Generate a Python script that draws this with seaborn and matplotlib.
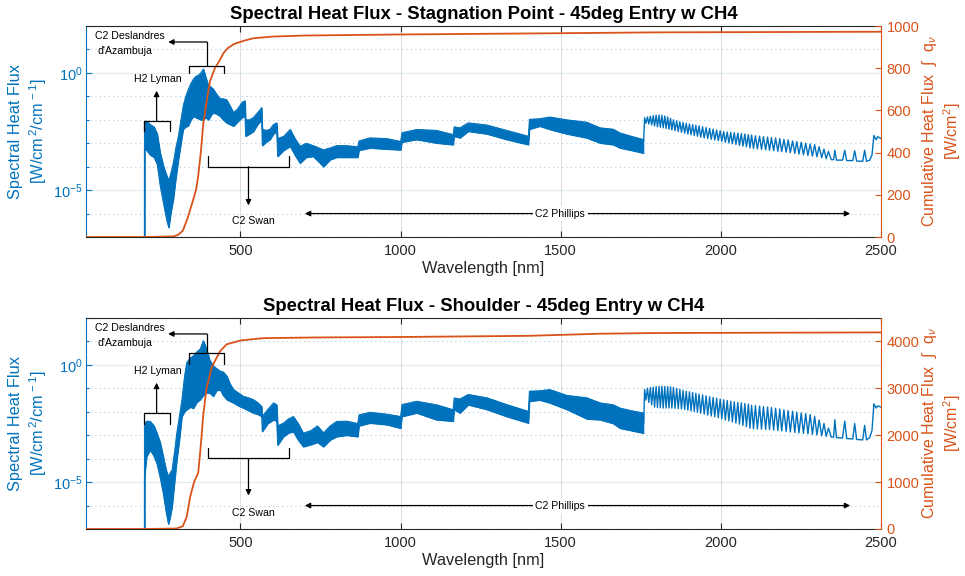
import numpy as np
import matplotlib
matplotlib.use("Agg")
import matplotlib.pyplot as plt
import seaborn as sns
from matplotlib.ticker import FixedLocator, NullFormatter, FixedFormatter

# ---------------- data ----------------
# Spectral heat flux envelope (log10 W/cm2/cm-1) of the dense/noisy part of the spectrum
top_band_wl = [17.5, 199.9, 200, 207, 218, 230, 240, 249, 260, 270, 276, 282, 290, 298, 306, 314, 321, 329, 337, 345,
               353, 360, 368, 376, 384, 392, 400, 408, 415, 425, 436, 446, 457, 467, 478, 490, 505, 514, 516, 528,
               540, 553, 566, 568, 580, 592, 603, 613, 616, 635, 655, 670, 686, 705, 727, 745, 759, 780, 800, 832,
               866, 870, 904, 957, 1000, 1004, 1050, 1112, 1164, 1167, 1185, 1211, 1269, 1331, 1399, 1402, 1435,
               1466, 1519, 1581, 1623, 1664, 1685, 1720, 1758]
top_band_hi = [-12, -12, -2.1, -2.05, -2.2, -2.3, -2.6, -3.4, -4.0, -4.4, -4.6, -4.3, -3.85, -3.2, -2.7, -2.0, -1.4, -1.0,
               -0.7, -0.45, -0.26, -0.15, -0.1, 0.0, 0.17, -0.2, -0.55, -0.6, -0.69, -0.9, -1.1, -1.1, -1.15, -1.4,
               -1.69, -1.55, -1.25, -1.19, -2.0, -2.0, -1.9, -1.7, -1.48, -2.4, -2.45, -2.4, -2.2, -2.13, -2.8, -2.7,
               -2.41, -2.8, -3.13, -3.0, -3.1, -3.2, -3.28, -3.2, -3.1, -3.1, -3.15, -2.9, -2.77, -2.8, -2.92, -2.55,
               -2.41, -2.45, -2.63, -2.3, -2.34, -2.13, -2.22, -2.45, -2.70, -1.98, -1.95, -1.88, -2.0, -2.1, -2.34,
               -2.4, -2.56, -2.7, -2.84]
top_band_lo = [-12, -12, -3.2, -3.3, -3.5, -3.6, -3.9, -4.8, -5.6, -6.3, -6.6, -6.0, -5.4, -4.5, -3.7, -3.0, -2.4, -2.3,
               -2.25, -2.0, -1.85, -1.9, -1.95, -2.0, -2.0, -1.9, -2.0, -1.8, -1.7, -1.75, -1.84, -2.0, -2.13, -2.2,
               -2.27, -2.1, -1.9, -1.84, -2.7, -2.6, -2.5, -2.2, -2.0, -3.1, -2.95, -2.84, -2.6, -2.5, -3.56, -3.3,
               -3.13, -3.5, -3.85, -3.6, -3.56, -3.8, -4.0, -3.7, -3.6, -3.6, -3.6, -3.3, -3.2, -3.25, -3.28, -2.95,
               -2.84, -2.99, -3.06, -2.7, -2.77, -2.49, -2.6, -2.84, -3.06, -2.4, -2.27, -2.41, -2.6, -2.77, -2.99,
               -3.06, -3.2, -3.3, -3.42]

# C2 Phillips band teeth (long-wavelength part): (wavelength nm, log10 flux)
top_phillips = [
    (1759, -2.90), (1762, -1.91), (1766, -2.15), (1771, -1.88), (1775, -2.18), (1780, -1.85), (1784, -2.22),
    (1789, -1.82), (1793, -2.26), (1798, -1.80), (1802, -2.30), (1807, -1.80), (1811, -2.32), (1816, -1.81),
    (1820, -2.34), (1825, -1.84), (1829, -2.37), (1834, -1.88), (1838, -2.40), (1843, -1.94), (1847, -2.43),
    (1852, -2.00), (1857, -2.46), (1862, -2.04), (1867, -2.50), (1872, -2.08), (1877, -2.53), (1882, -2.12),
    (1887, -2.57), (1892, -2.15), (1897, -2.61), (1902, -2.18), (1907, -2.64), (1912, -2.21), (1917, -2.67),
    (1922, -2.24), (1927, -2.70), (1932, -2.26), (1937, -2.74), (1943, -2.30), (1948, -2.77), (1954, -2.33),
    (1959, -2.80), (1965, -2.37), (1970, -2.83), (1976, -2.40), (1981, -2.86), (1987, -2.44), (1992, -2.89),
    (1998, -2.47), (2003, -2.92), (2009, -2.50), (2014, -2.96), (2020, -2.52), (2025, -2.99), (2031, -2.54),
    (2036, -3.02), (2042, -2.55), (2047, -3.05), (2053, -2.57), (2058, -3.09), (2064, -2.59), (2069, -3.12),
    (2075, -2.61), (2080, -3.15), (2086, -2.63), (2091, -3.20), (2096, -2.65), (2102, -3.22), (2108, -2.68),
    (2114, -3.24), (2121, -2.70), (2127, -3.26), (2133, -2.72), (2140, -3.28), (2146, -2.74), (2152, -3.30),
    (2158, -2.76), (2165, -3.32), (2171, -2.78), (2178, -3.34), (2184, -2.80), (2190, -3.36), (2197, -2.84),
    (2204, -3.38), (2210, -2.86), (2217, -3.40), (2224, -2.90), (2231, -3.43), (2237, -2.93), (2244, -3.46),
    (2251, -2.96), (2258, -3.49), (2265, -3.00), (2272, -3.52), (2279, -3.03), (2286, -3.55), (2293, -3.06),
    (2300, -3.58), (2307, -3.15), (2315, -3.62), (2322, -3.25), (2329, -3.66), (2336, -3.35), (2345, -3.70),
    (2352, -3.70), (2356, -3.30), (2361, -3.72), (2380, -3.72), (2387, -3.30), (2393, -3.74), (2412, -3.74),
    (2418, -3.32), (2424, -3.76), (2443, -3.77), (2449, -3.30), (2455, -3.77), (2465, -3.72), (2472, -3.50),
    (2478, -2.67), (2485, -2.85), (2490, -2.72), (2500, -2.80)]

bot_band_wl = [17.5, 199.9, 200, 207, 218, 230, 239, 249, 259, 268, 275, 280, 286, 294, 301, 309, 317, 325, 332, 343,
               353, 363, 374, 384, 394, 404, 415, 425, 436, 446, 457, 467, 478, 494, 509, 525, 540, 553, 566, 568,
               585, 603, 613, 616, 634, 650, 665, 680, 696, 720, 740, 759, 780, 800, 832, 866, 870, 904, 957, 1000,
               1004, 1050, 1112, 1164, 1167, 1185, 1211, 1269, 1331, 1399, 1402, 1435, 1466, 1519, 1581, 1623, 1664,
               1685, 1720, 1758]
bot_band_hi = [-12, -12, -2.48, -2.4, -2.41, -2.6, -2.91, -3.3, -3.92, -4.5, -4.78, -4.6, -4.5, -3.7, -2.91, -2.2, -1.48,
               -0.5, 0.10, 0.3, 0.39, 0.55, 0.68, 1.03, 0.68, 0.2, -0.04, -0.15, -0.26, -0.3, -0.47, -0.8, -1.05, -1.2,
               -1.34, -1.4, -1.48, -1.6, -1.77, -2.2, -1.9, -1.62, -1.7, -2.6, -2.48, -2.3, -2.2, -2.5, -2.91, -2.8,
               -2.6, -2.9, -2.6, -2.41, -2.4, -2.5, -2.13, -2.02, -2.1, -2.2, -1.69, -1.55, -1.7, -1.91, -1.41, -1.45,
               -1.26, -1.4, -1.69, -1.98, -1.12, -1.1, -1.05, -1.3, -1.4, -1.62, -1.7, -1.84, -1.95, -2.05]
bot_band_lo = [-12, -12, -4.78, -3.9, -3.63, -3.9, -4.21, -4.8, -5.5, -6.3, -6.79, -6.5, -6.08, -5.0, -4.06, -3.2, -2.2,
               -2.0, -1.91, -1.8, -1.85, -1.6, -1.48, -1.3, -1.19, -1.2, -1.34, -1.1, -1.05, -1.3, -1.48, -1.55, -1.62,
               -1.75, -1.84, -1.95, -2.05, -2.1, -2.2, -2.84, -2.5, -2.34, -2.4, -3.42, -3.06, -2.9, -2.85, -3.2,
               -3.49, -3.4, -3.3, -3.49, -3.2, -3.06, -3.0, -3.06, -2.6, -2.48, -2.55, -2.70, -2.2, -2.05, -2.34, -2.4,
               -1.9, -2.05, -1.7, -1.9, -2.2, -2.48, -1.55, -1.5, -1.62, -1.9, -2.3, -2.34, -2.5, -2.70, -2.8, -2.91]

bot_phillips = [
    (1759, -2.50), (1762, -1.05), (1766, -1.50), (1771, -1.00), (1775, -1.60), (1780, -0.97), (1784, -1.70),
    (1789, -0.95), (1793, -1.80), (1798, -0.93), (1802, -1.82), (1807, -0.92), (1811, -1.83), (1816, -0.91),
    (1820, -1.84), (1825, -0.92), (1829, -1.84), (1834, -0.93), (1838, -1.84), (1843, -0.94), (1847, -1.84),
    (1852, -0.96), (1857, -1.85), (1862, -1.00), (1867, -1.87), (1872, -1.04), (1877, -1.88), (1882, -1.09),
    (1887, -1.90), (1892, -1.12), (1897, -1.93), (1902, -1.15), (1907, -1.96), (1912, -1.18), (1917, -1.99),
    (1922, -1.21), (1927, -2.02), (1932, -1.25), (1937, -2.06), (1943, -1.28), (1948, -2.10), (1954, -1.32),
    (1959, -2.14), (1965, -1.36), (1970, -2.18), (1976, -1.39), (1981, -2.21), (1987, -1.42), (1992, -2.25),
    (1998, -1.46), (2003, -2.30), (2009, -1.49), (2014, -2.35), (2020, -1.52), (2025, -2.39), (2031, -1.55),
    (2036, -2.43), (2042, -1.58), (2047, -2.48), (2053, -1.60), (2058, -2.53), (2064, -1.62), (2069, -2.58),
    (2075, -1.65), (2080, -2.63), (2086, -1.67), (2091, -2.70), (2096, -1.72), (2102, -2.72), (2108, -1.74),
    (2114, -2.73), (2121, -1.76), (2127, -2.74), (2133, -1.78), (2140, -2.75), (2146, -1.80), (2152, -2.76),
    (2158, -1.82), (2165, -2.78), (2171, -1.85), (2178, -2.80), (2184, -1.88), (2190, -2.82), (2197, -1.92),
    (2204, -2.84), (2210, -1.95), (2217, -2.86), (2224, -1.98), (2231, -2.88), (2237, -2.02), (2244, -2.90),
    (2251, -2.05), (2258, -2.92), (2265, -2.08), (2272, -2.94), (2279, -2.12), (2286, -2.96), (2293, -2.20),
    (2300, -2.99), (2307, -2.35), (2315, -3.02), (2322, -2.50), (2329, -3.05), (2336, -2.70), (2345, -3.08),
    (2352, -3.08), (2356, -2.34), (2361, -3.10), (2380, -3.12), (2387, -2.40), (2393, -3.14), (2412, -3.16),
    (2418, -2.50), (2424, -3.18), (2443, -3.20), (2449, -2.58), (2455, -3.20), (2465, -3.10), (2472, -2.80),
    (2478, -1.66), (2485, -1.84), (2490, -1.75), (2500, -1.80)]

# Cumulative heat flux (W/cm2)
top_cum_wl = [17.5, 200, 290, 305, 320, 335, 345, 355, 362, 368, 376, 384, 395, 405, 420, 436, 446, 460, 480, 510, 540,
              600, 700, 1000, 1500, 1800, 2500]
top_cum = [0, 0, 3, 10, 30, 90, 140, 190, 230, 290, 400, 540, 650, 740, 800, 840, 870, 895, 915, 930, 942, 950, 955,
           960, 966, 970, 973]
bot_cum_wl = [17.5, 200, 300, 320, 332, 343, 355, 368, 375, 384, 394, 410, 436, 457, 500, 570, 730, 1000, 1400, 1623,
              1800, 2500]
bot_cum = [0, 0, 10, 60, 260, 690, 1000, 1200, 1700, 2450, 3000, 3450, 3790, 3940, 4020, 4070, 4085, 4095, 4120, 4165,
           4180, 4193]

titles = ["Spectral Heat Flux - Stagnation Point - 45deg Entry w CH4",
          "Spectral Heat Flux - Shoulder - 45deg Entry w CH4"]
x_ticks = [500, 1000, 1500, 2000, 2500]
right_ticks = [[0, 200, 400, 600, 800, 1000], [0, 1000, 2000, 3000, 4000]]
right_lims = [1000, 4500]

# ---------------- style ----------------
sns.set_theme(style="white")
plt.rcParams["font.family"] = ["Liberation Sans", "DejaVu Sans"]
plt.rcParams["mathtext.fontset"] = "custom"
plt.rcParams["mathtext.rm"] = "Liberation Sans"
plt.rcParams["mathtext.it"] = "Liberation Sans:italic"
plt.rcParams["mathtext.sf"] = "Liberation Sans"

BLUE = "#0072BD"
ORANGE = "#D95319"
DARK = "#262626"
LBL = 11.8

fig = plt.figure(figsize=(9.65, 5.76), dpi=100)
ax_pos = [[0.0891, 0.5885, 0.8238, 0.3663], [0.0891, 0.0816, 0.8238, 0.3663]]

# annotation layout (nm, log10 flux)
ann = [
    dict(desl_bracket=0.31, desl_tick=0.0, lym_br=-2.06, lym_tick=-2.49, lym_head=-0.76, swan_br=-4.0,
         swan_tick=-3.56, swan_head=-5.65, swan_txt=-6.32, phil=-6.0),
    dict(desl_bracket=0.49, desl_tick=0.03, lym_br=-2.05, lym_tick=-2.53, lym_head=-0.76, swan_br=-3.99,
         swan_tick=-3.56, swan_head=-5.57, swan_txt=-6.32, phil=-6.0),
]

panels = [
    (top_band_wl, top_band_hi, top_band_lo, top_phillips, top_cum_wl, top_cum),
    (bot_band_wl, bot_band_hi, bot_band_lo, bot_phillips, bot_cum_wl, bot_cum),
]

for i, (bwl, bhi, blo, phil, cwl, cv) in enumerate(panels):
    ax = fig.add_axes(ax_pos[i])
    ax.set_yscale("log")
    hi = 10.0 ** np.array(bhi)
    lo = 10.0 ** np.array(blo)
    ax.fill_between(bwl, lo, hi, color=BLUE, lw=0.7, edgecolor=BLUE, zorder=2)
    sns.lineplot(x=bwl, y=hi, ax=ax, color=BLUE, lw=0.7, sort=False, estimator=None, zorder=2)
    sns.lineplot(x=bwl, y=lo, ax=ax, color=BLUE, lw=0.7, sort=False, estimator=None, zorder=2)
    pwl = [p[0] for p in phil]
    pv = 10.0 ** np.array([p[1] for p in phil])
    sns.lineplot(x=pwl, y=pv, ax=ax, color=BLUE, lw=1.0, sort=False, estimator=None, zorder=2)
    ax.set_xlim(17.5, 2500)
    ax.set_ylim(1e-7, 1e2)

    ax.xaxis.set_major_locator(FixedLocator(x_ticks))
    ax.set_xticklabels([str(t) for t in x_ticks])
    ax.yaxis.set_major_locator(FixedLocator([1e-5, 1e0]))
    ax.yaxis.set_major_formatter(FixedFormatter([r"$10^{-5}$", r"$10^{0}$"]))
    ax.yaxis.set_minor_locator(FixedLocator([10.0 ** k for k in range(-7, 3)]))
    ax.yaxis.set_minor_formatter(NullFormatter())

    ax.tick_params(axis="x", which="both", direction="in", top=True, bottom=True, length=4, width=0.8,
                   labelsize=10.5, colors=DARK, pad=5)
    ax.tick_params(axis="y", which="major", direction="in", left=True, right=False, length=4, width=0.8,
                   labelsize=10.5, colors=BLUE, pad=2)
    ax.tick_params(axis="y", which="minor", direction="in", left=True, right=False, length=2.5, width=0.8,
                   colors=BLUE)

    ax.grid(which="major", axis="x", color="#000000", alpha=0.13, lw=0.8, ls="-")
    ax.grid(which="major", axis="y", color=BLUE, alpha=0.13, lw=0.8, ls="-")
    ax.grid(which="minor", axis="y", color=BLUE, alpha=0.35, lw=0.8, ls=(0, (1, 3)))
    ax.set_axisbelow(True)

    for s in ["top", "bottom"]:
        ax.spines[s].set_color(DARK)
        ax.spines[s].set_linewidth(0.8)
    ax.spines["left"].set_color(BLUE)
    ax.spines["left"].set_linewidth(0.8)
    ax.spines["right"].set_visible(False)

    ax.set_xlabel("Wavelength [nm]", fontsize=LBL, color=DARK, labelpad=2)
    ax.set_ylabel("Spectral Heat Flux\n[W/cm$^{\\,2}$/cm$^{\\,-1}$]", fontsize=LBL, color=BLUE,
                  linespacing=1.3)
    ax.yaxis.set_label_coords(-0.046, 0.5)
    ax.set_title(titles[i], fontsize=13.3, fontweight="bold", color="black", pad=5)

    # cumulative on right axis
    ax2 = ax.twinx()
    sns.lineplot(x=cwl, y=cv, ax=ax2, color=ORANGE, lw=1.3, sort=False, estimator=None)
    ax2.set_ylim(0, right_lims[i])
    ax2.set_xlim(17.5, 2500)
    ax2.yaxis.set_major_locator(FixedLocator(right_ticks[i]))
    ax2.set_yticklabels([str(t) for t in right_ticks[i]])
    ax2.tick_params(axis="y", direction="in", length=4, width=0.8, labelsize=10.5, colors=ORANGE, pad=4)
    ax2.spines["right"].set_color(ORANGE)
    ax2.spines["right"].set_linewidth(0.8)
    for s in ["left", "top", "bottom"]:
        ax2.spines[s].set_visible(False)
    ax2.grid(False)
    ax2.set_ylabel("Cumulative Heat Flux  \u222b  q$_{\\nu}$\n[W/cm$^{2}$]", fontsize=11.5, color=ORANGE,
                   linespacing=1.15)
    ax2.yaxis.set_label_coords(1.0495, 0.5)

    # ---- annotations (drawn on top, in left-axis data coords) ----
    a = ann[i]
    T = ax.transData
    kw = dict(color="black", lw=0.9, transform=T, zorder=5, clip_on=False)
    akw = dict(arrowstyle="-|>", mutation_scale=8, lw=0.9, color="black", shrinkA=0, shrinkB=0)
    P = lambda v: 10.0 ** v
    fs = 7.6

    # C2 Deslandres d'Azambuja
    ax2.plot([340, 340, 449, 449], [P(a["desl_tick"]), P(a["desl_bracket"]), P(a["desl_bracket"]), P(a["desl_tick"])], **kw)
    ax2.plot([395, 395], [P(a["desl_bracket"]), P(1.32)], **kw)
    ax2.annotate("", xy=(274, P(1.32)), xytext=(395, P(1.32)), xycoords=T, textcoords=T, arrowprops=akw)
    ax2.text(46, P(1.59), "C2 Deslandres", transform=T, fontsize=fs, ha="left", va="center", color="black")
    ax2.text(52, P(0.95), "d'Azambuja", transform=T, fontsize=fs, ha="left", va="center", color="black")

    # H2 Lyman
    ax2.plot([200, 200, 280, 280], [P(a["lym_tick"]), P(a["lym_br"]), P(a["lym_br"]), P(a["lym_tick"])], **kw)
    ax2.annotate("", xy=(238, P(a["lym_head"])), xytext=(238, P(a["lym_br"])), xycoords=T, textcoords=T,
                 arrowprops=akw)
    ax2.text(243, P(-0.26), "H2 Lyman", transform=T, fontsize=fs, ha="center", va="center", color="black")

    # C2 Swan
    ax2.plot([400, 400, 651, 651], [P(a["swan_tick"]), P(a["swan_br"]), P(a["swan_br"]), P(a["swan_tick"])], **kw)
    ax2.annotate("", xy=(525, P(a["swan_head"])), xytext=(525, P(a["swan_br"])), xycoords=T, textcoords=T,
                 arrowprops=akw)
    ax2.text(540, P(a["swan_txt"]), "C2 Swan", transform=T, fontsize=fs, ha="center", va="center", color="black")

    # C2 Phillips
    ax2.annotate("", xy=(2404, P(a["phil"])), xytext=(701, P(a["phil"])), xycoords=T, textcoords=T,
                 arrowprops=dict(arrowstyle="<|-|>", mutation_scale=8, lw=0.9, color="black", shrinkA=0, shrinkB=0))
    ax2.text(1498, P(a["phil"]), "C2 Phillips", transform=T, fontsize=fs, ha="center", va="center", color="black",
             bbox=dict(boxstyle="square,pad=0.25", fc="white", ec="none"))

fig.savefig("out.png", dpi=100)
